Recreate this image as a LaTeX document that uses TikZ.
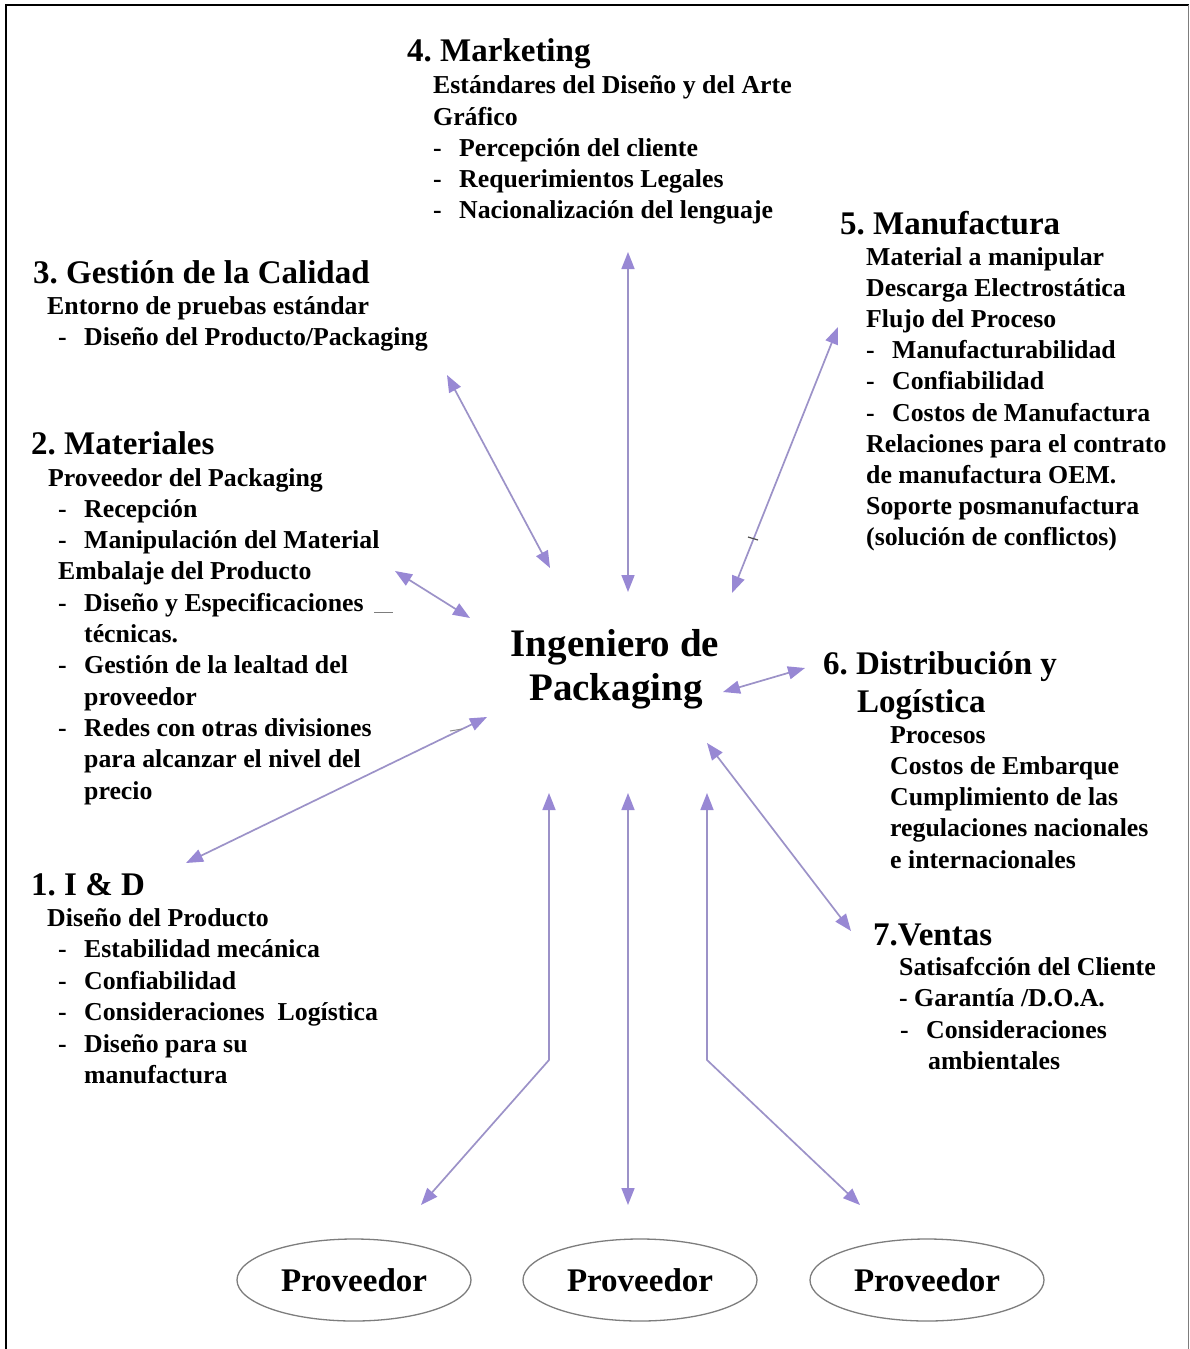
\documentclass[tikz,border=0pt]{standalone}
\usepackage{fontspec}
\setmainfont{Liberation Serif}
\usetikzlibrary{arrows.meta,shapes.geometric}
\definecolor{linkline}{RGB}{156,146,200}
\definecolor{linkhead}{RGB}{152,136,212}
\definecolor{rim}{RGB}{125,125,125}
% dash bullet with a fixed indent for the item text
\newcommand{\itm}[1]{\makebox[26pt][l]{-}#1}
\frenchspacing

\begin{document}
\begin{tikzpicture}[x=1pt,y=-1pt,
  head/.style={anchor=base west,inner sep=0pt,font=\fontsize{33}{38}\selectfont\bfseries},
  body/.style={anchor=base west,inner sep=0pt,font=\fontsize{25.8}{31}\selectfont\bfseries},
  core/.style={anchor=base,inner sep=0pt,font=\fontsize{39}{44}\selectfont\bfseries},
  supplier/.style={ellipse,draw=rim,line width=1.3pt,minimum width=234pt,minimum height=82pt,
    inner sep=0pt,font=\fontsize{33}{38}\selectfont\bfseries},
  link/.style={draw=linkline,line width=1.7pt,{Triangle[length=17pt,width=13pt,color=linkhead]}-{Triangle[length=17pt,width=13pt,color=linkhead]}}
]
\useasboundingbox (0,0) rectangle (1190,1349);
\fill[white] (0,0) rectangle (1190,1349);

% outer frame
\draw[line width=2.6pt] (6,1349) -- (6,5) -- (1189,5);
\draw[line width=1pt,rim] (1188,5) -- (1188,1349);

% central role
\node[core] (eng1) at (615,656) {Ingeniero de};
\node[core] (eng2) at (616,700) {Packaging};

% 4. Marketing
\node[head] (mk) at (407,61) {4. Marketing};
\foreach \xx/\yy/\txt [count=\i] in {
  433/93/{Estándares del Diseño y del Arte},
  433/125/{Gráfico},
  433/156/{\itm{Percepción del cliente}},
  433/187/{\itm{Requerimientos Legales}},
  433/218/{\itm{Nacionalización del lenguaje}}}
  \node[body] (mk-\i) at (\xx,\yy) {\txt};

% 5. Manufactura
\node[head] (mf) at (840,234) {5. Manufactura};
\foreach \txt [count=\i] in {
  {Material a manipular},
  {Descarga Electrostática},
  {Flujo del Proceso},
  {\itm{Manufacturabilidad}},
  {\itm{Confiabilidad}},
  {\itm{Costos de Manufactura}},
  {Relaciones para el contrato},
  {de manufactura OEM.},
  {Soporte posmanufactura},
  {(solución de conflictos)}}
  \node[body] (mf-\i) at (866,{265+31.2*(\i-1)}) {\txt};

% 3. Gestion de la Calidad
\node[head] (qc) at (33,283) {3. Gestión de la Calidad};
\foreach \xx/\yy/\txt [count=\i] in {
  47/314/{Entorno de pruebas estándar},
  58/345/{\itm{Diseño del Producto/Packaging}}}
  \node[body] (qc-\i) at (\xx,\yy) {\txt};

% 2. Materiales
\node[head] (mat) at (31,454) {2. Materiales};
\foreach \xx/\yy/\txt [count=\i] in {
  48/486/{Proveedor del Packaging},
  58/517.3/{\itm{Recepción}},
  58/548.6/{\itm{Manipulación del Material}},
  58/579.9/{Embalaje del Producto},
  58/611.2/{\itm{Diseño y Especificaciones}},
  84/642.5/{técnicas.},
  58/673.8/{\itm{Gestión de la lealtad del}},
  84/705.1/{proveedor},
  58/736.4/{\itm{Redes con otras divisiones}},
  84/767.7/{para alcanzar el nivel del},
  84/799/{precio}}
  \node[body] (mat-\i) at (\xx,\yy) {\txt};
\draw[rim,line width=1pt] (374,612) -- (393,612);

% 1. I & D
\node[head] (rd) at (31,895) {1. I \& D};
\foreach \xx/\yy/\txt [count=\i] in {
  47/926/{Diseño del Producto},
  58/957.5/{\itm{Estabilidad mecánica}},
  58/989/{\itm{Confiabilidad}},
  58/1020.5/{\itm{Consideraciones\ \ Logística}},
  58/1052/{\itm{Diseño para su}},
  84/1083.5/{manufactura}}
  \node[body] (rd-\i) at (\xx,\yy) {\txt};

% 6. Distribucion y Logistica
\node[head] (dl) at (823,674) {6. Distribución y};
\node[head] (dl-h) at (857,712) {Logística};
\foreach \txt [count=\i] in {
  {Procesos},
  {Costos de Embarque},
  {Cumplimiento de las},
  {regulaciones nacionales},
  {e internacionales}}
  \node[body] (dl-\i) at (890,{743+31.3*(\i-1)}) {\txt};

% 7. Ventas
\node[head] (vt) at (873,945) {7.Ventas};
\foreach \xx/\yy/\txt [count=\i] in {
  899/975/{Satisafcción del Cliente},
  899/1006/{- Garantía /D.O.A.},
  900/1038/{\itm{Consideraciones}},
  928/1069/{ambientales}}
  \node[body] (vt-\i) at (\xx,\yy) {\txt};

% suppliers
\node[supplier] (s1) at (354,1280) {Proveedor};
\node[supplier] (s2) at (640,1280) {Proveedor};
\node[supplier] (s3) at (927,1280) {Proveedor};

% connector end points
\coordinate (mkA) at (628,252);   \coordinate (mkB) at (628,592);
\coordinate (qcA) at (447,375);   \coordinate (qcB) at (550,568);
\coordinate (mfA) at (838,327);   \coordinate (mfB) at (732,593);
\coordinate (matA) at (395,571);  \coordinate (matB) at (470,618);
\coordinate (dlA) at (723,692);   \coordinate (dlB) at (805,668);
\coordinate (rdA) at (186,863);   \coordinate (rdB) at (487,717);
\coordinate (vtA) at (707,743);   \coordinate (vtB) at (851,931);
\coordinate (p1A) at (549,793);   \coordinate (p1K) at (549,1060); \coordinate (p1B) at (421,1205);
\coordinate (p2A) at (628,793);   \coordinate (p2B) at (628,1205);
\coordinate (p3A) at (707,793);   \coordinate (p3K) at (707,1060); \coordinate (p3B) at (860,1205);

% connectors
\draw[link] (mkA) -- (mkB);
\draw[link] (qcA) -- (qcB);
\draw[link] (mfA) -- (mfB);
\draw[link] (matA) -- (matB);
\draw[link] (dlA) -- (dlB);
\draw[link] (rdA) -- (rdB);
\draw[link] (vtA) -- (vtB);
\draw[link] (p1A) -- (p1K) -- (p1B);
\draw[link] (p2A) -- (p2B);
\draw[link] (p3A) -- (p3K) -- (p3B);

% small marks on two connectors
\draw[black!70,line width=1.2pt] (748,537) -- (758,540);
\draw[black!45,line width=1pt] (450,731) -- (462,729);
\end{tikzpicture}
\end{document}
